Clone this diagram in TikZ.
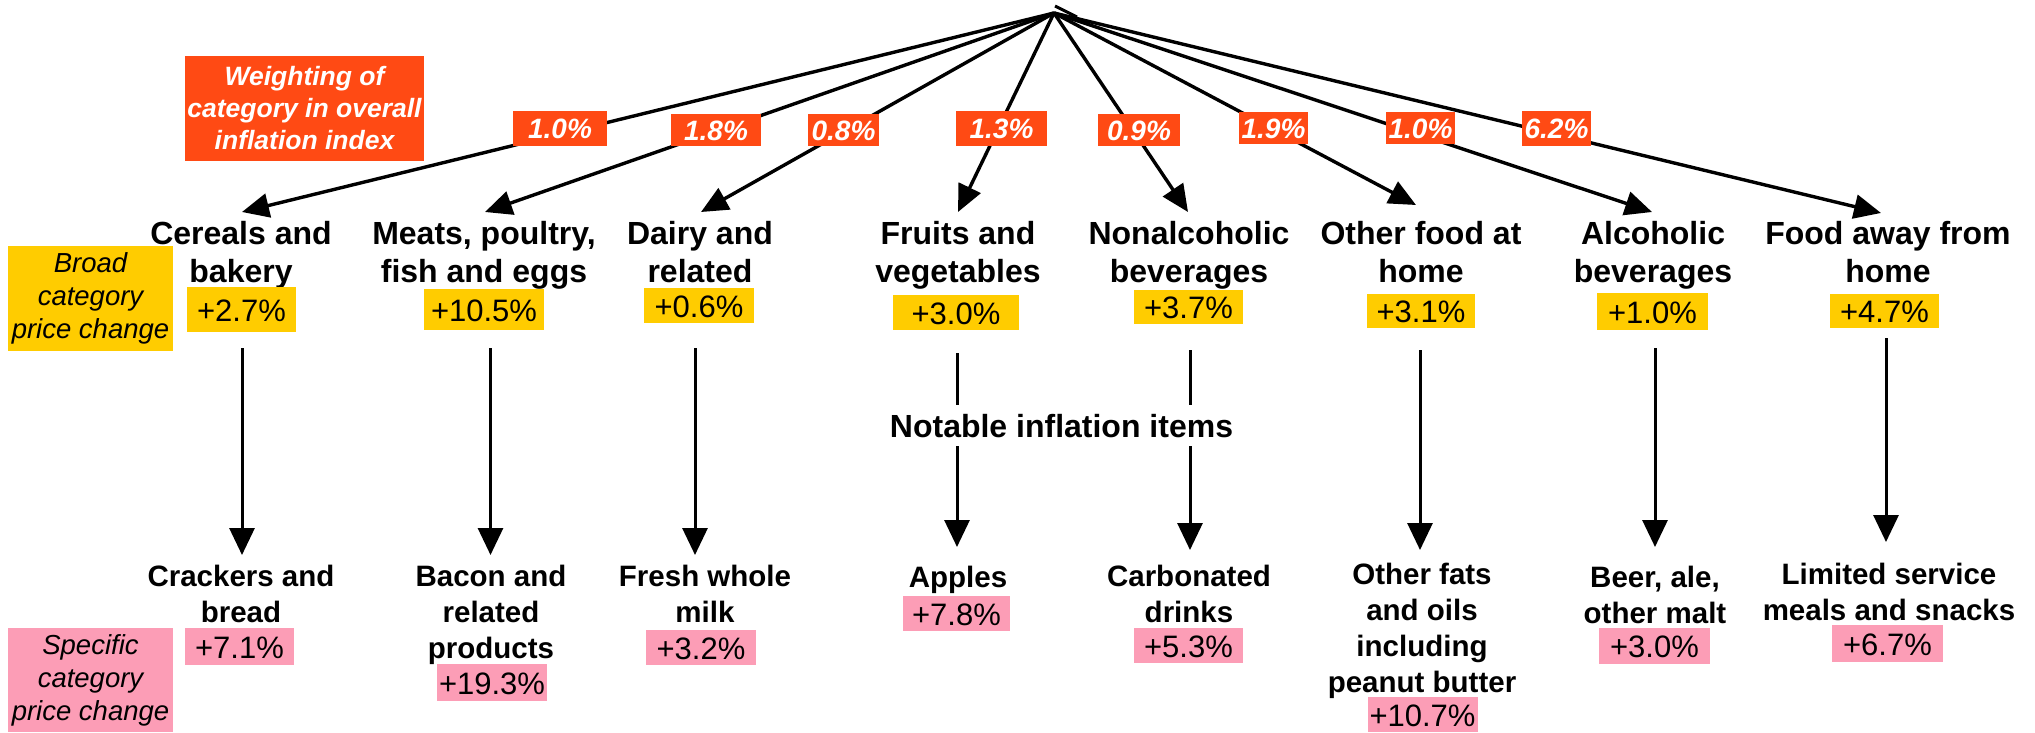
\documentclass[tikz,border=0pt]{standalone}
\usepackage{fontspec}
\setmainfont{Liberation Sans}
\usetikzlibrary{arrows.meta,calc}
\definecolor{worange}{HTML}{FF4A14}
\definecolor{byellow}{HTML}{FFCC00}
\definecolor{spink}{HTML}{FC9DB6}
\begin{document}
\begin{tikzpicture}[x=1pt,y=-1pt,
 broad/.style={inner sep=0pt, anchor=north, align=center, font=\fontsize{32}{38}\selectfont\bfseries},
 spec/.style={inner sep=0pt, anchor=north, align=center, font=\fontsize{29.5}{36}\selectfont\bfseries},
 ybox/.style={fill=byellow, inner xsep=2pt, inner ysep=0pt, text height=23pt, text depth=0pt, font=\fontsize{31}{31}\selectfont},
 pbox/.style={fill=spink, inner xsep=2pt, inner ysep=0pt, text height=23pt, text depth=0pt, font=\fontsize{31}{31}\selectfont},
 wbox/.style={fill=worange, text=white, inner sep=0pt, text height=20pt, text depth=0pt, font=\fontsize{28}{28}\selectfont\bfseries\itshape},
 legend/.style={inner sep=0pt, align=center, minimum width=165pt, minimum height=105pt, font=\fontsize{27.5}{33}\selectfont\itshape},
 toparrow/.style={line width=3.4pt, -{Triangle[length=27pt,width=24pt]}},
 downarrow/.style={line width=3pt, -{Triangle[length=27pt,width=25pt]}},
]
\fill[white] (0,0) rectangle (2035,732);
\useasboundingbox (0,0) rectangle (2035,732);

% legends
\node[fill=worange, text=white, inner sep=0pt, align=center, minimum width=239pt, minimum height=105pt,
      font=\fontsize{26.5}{32}\selectfont\bfseries\itshape] (wleg) at (304.5,108.5)
      {Weighting of\\category in overall\\inflation index};
\node[legend, fill=byellow] (yleg) at (90.5,298.5) {Broad\\category\\price change};
\node[legend, fill=spink, minimum height=104pt] (pleg) at (90.5,680) {Specific\\category\\price change};

% broad categories
\node[broad] (b1) at (241,221) {Cereals and\\bakery};
\node[broad] (b2) at (484,221) {Meats, poultry,\\fish and eggs};
\node[broad] (b3) at (700,221) {Dairy and\\related};
\node[broad] (b4) at (958,221) {Fruits and\\vegetables};
\node[broad] (b5) at (1189,221) {Nonalcoholic\\beverages};
\node[broad] (b6) at (1421,221) {Other food at\\home};
\node[broad] (b7) at (1653,221) {Alcoholic\\beverages};
\node[broad] (b8) at (1888,221) {Food away from\\home};

% broad price changes
\node[ybox, minimum width=109pt, minimum height=45pt] (y1) at (241.5,309.5) {+2.7\%};
\node[ybox, minimum width=120pt, minimum height=41pt] (y2) at (484,309.5) {+10.5\%};
\node[ybox, minimum width=110pt, minimum height=35pt] (y3) at (699,305.5) {+0.6\%};
\node[ybox, minimum width=126pt, minimum height=35pt] (y4) at (956,312.5) {+3.0\%};
\node[ybox, minimum width=109pt, minimum height=34pt] (y5) at (1188.5,307) {+3.7\%};
\node[ybox, minimum width=108pt, minimum height=34pt] (y6) at (1421,310.5) {+3.1\%};
\node[ybox, minimum width=111pt, minimum height=37pt] (y7) at (1652.5,311.5) {+1.0\%};
\node[ybox, minimum width=109pt, minimum height=34pt] (y8) at (1884.5,310.5) {+4.7\%};

% specific items
\node[spec] (s1) at (241,564.5) {Crackers and\\bread};
\node[spec] (s2) at (491,564.5) {Bacon and\\related\\products};
\node[spec] (s3) at (705,564.5) {Fresh whole\\milk};
\node[spec] (s4) at (958,566) {Apples};
\node[spec] (s5) at (1189,564.5) {Carbonated\\drinks};
\node[spec] (s6) at (1422,563) {Other fats\\and oils\\including\\peanut butter};
\node[spec] (s7) at (1655,566) {Beer, ale,\\other malt};
\node[spec] (s8) at (1889,563) {Limited service\\meals and snacks};

% specific price changes
\node[pbox, minimum width=109pt, minimum height=37pt] (p1) at (239.5,646.5) {+7.1\%};
\node[pbox, minimum width=110pt, minimum height=37pt] (p2) at (492,682.5) {+19.3\%};
\node[pbox, minimum width=110pt, minimum height=35pt] (p3) at (701,647.5) {+3.2\%};
\node[pbox, minimum width=107pt, minimum height=35pt] (p4) at (956.5,613.5) {+7.8\%};
\node[pbox, minimum width=109pt, minimum height=35pt] (p5) at (1188.5,645.5) {+5.3\%};
\node[pbox, minimum width=109pt, minimum height=35pt] (p6) at (1422.5,714.5) {+10.7\%};
\node[pbox, minimum width=111pt, minimum height=36pt] (p7) at (1654.5,646) {+3.0\%};
\node[pbox, minimum width=111pt, minimum height=37pt] (p8) at (1887.5,643.5) {+6.7\%};

% top fan of arrows
\coordinate (apex) at (1054,13);
\coordinate (stubA) at (1055,6);
\coordinate (stubB) at (1077,17);
\draw[line width=3pt] (stubA) -- (stubB);
\draw[toparrow] (apex) -- ([xshift=1pt,yshift=9pt]b1.north);
\draw[toparrow] (apex) -- ([xshift=1pt,yshift=9pt]b2.north);
\draw[toparrow] (apex) -- ([xshift=1pt,yshift=9pt]b3.north);
\draw[toparrow] (apex) -- ([xshift=0pt,yshift=9pt]b4.north);
\draw[toparrow] (apex) -- ([xshift=-1pt,yshift=9pt]b5.north);
\draw[toparrow] (apex) -- ([xshift=-5pt,yshift=16pt]b6.north);
\draw[toparrow] (apex) -- ([xshift=-1pt,yshift=9pt]b7.north);
\draw[toparrow] (apex) -- ([xshift=-7pt,yshift=8pt]b8.north);

% weights
\node[wbox, minimum width=94pt, minimum height=35pt] (w1) at (560,128.5) {1.0\%};
\node[wbox, minimum width=90pt, minimum height=32pt] (w2) at (716,130) {1.8\%};
\node[wbox, minimum width=71pt, minimum height=32pt] (w3) at (843.5,130) {0.8\%};
\node[wbox, minimum width=91pt, minimum height=35pt] (w4) at (1001.5,128.5) {1.3\%};
\node[wbox, minimum width=82pt, minimum height=32pt] (w5) at (1139,130) {0.9\%};
\node[wbox, minimum width=69pt, minimum height=32pt] (w6) at (1273.5,128) {1.9\%};
\node[wbox, minimum width=69pt, minimum height=32pt] (w7) at (1420.5,128) {1.0\%};
\node[wbox, minimum width=69pt, minimum height=35pt] (w8) at (1556.5,128.5) {6.2\%};

% down arrows (vertical)
\draw[downarrow, shorten <=16pt, shorten >=9.5pt] ([xshift=0.5pt]y1.south) -- ([xshift=0.5pt]y1.south |- s1.north);
\draw[downarrow, shorten <=18pt, shorten >=9.5pt] ([xshift=6.5pt]y2.south) -- ([xshift=6.5pt]y2.south |- s2.north);
\draw[downarrow, shorten <=25pt, shorten >=9.5pt] ([xshift=-4pt]y3.south) -- ([xshift=-4pt]y3.south |- s3.north);
\draw[downarrow, shorten <=23pt, shorten >=19pt] ([xshift=1pt]y4.south) -- ([xshift=1pt]y4.south |- s4.north);
\draw[downarrow, shorten <=26pt, shorten >=14.5pt] ([xshift=1.5pt]y5.south) -- ([xshift=1.5pt]y5.south |- s5.north);
\draw[downarrow, shorten <=22.5pt, shorten >=13pt] ([xshift=-1pt]y6.south) -- ([xshift=-1pt]y6.south |- s6.north);
\draw[downarrow, shorten <=18pt, shorten >=19pt] ([xshift=2.5pt]y7.south) -- ([xshift=2.5pt]y7.south |- s7.north);
\draw[downarrow, shorten <=10.5pt, shorten >=21pt] ([xshift=1.5pt]y8.south) -- ([xshift=1.5pt]y8.south |- s8.north);

% notable label (interrupts two arrows)
\node[fill=white, inner xsep=2pt, inner ysep=9pt, text height=23pt, text depth=0pt,
      font=\fontsize{32}{32}\selectfont\bfseries] (notable) at (1061.5,425.5) {Notable inflation items};
\end{tikzpicture}
\end{document}
